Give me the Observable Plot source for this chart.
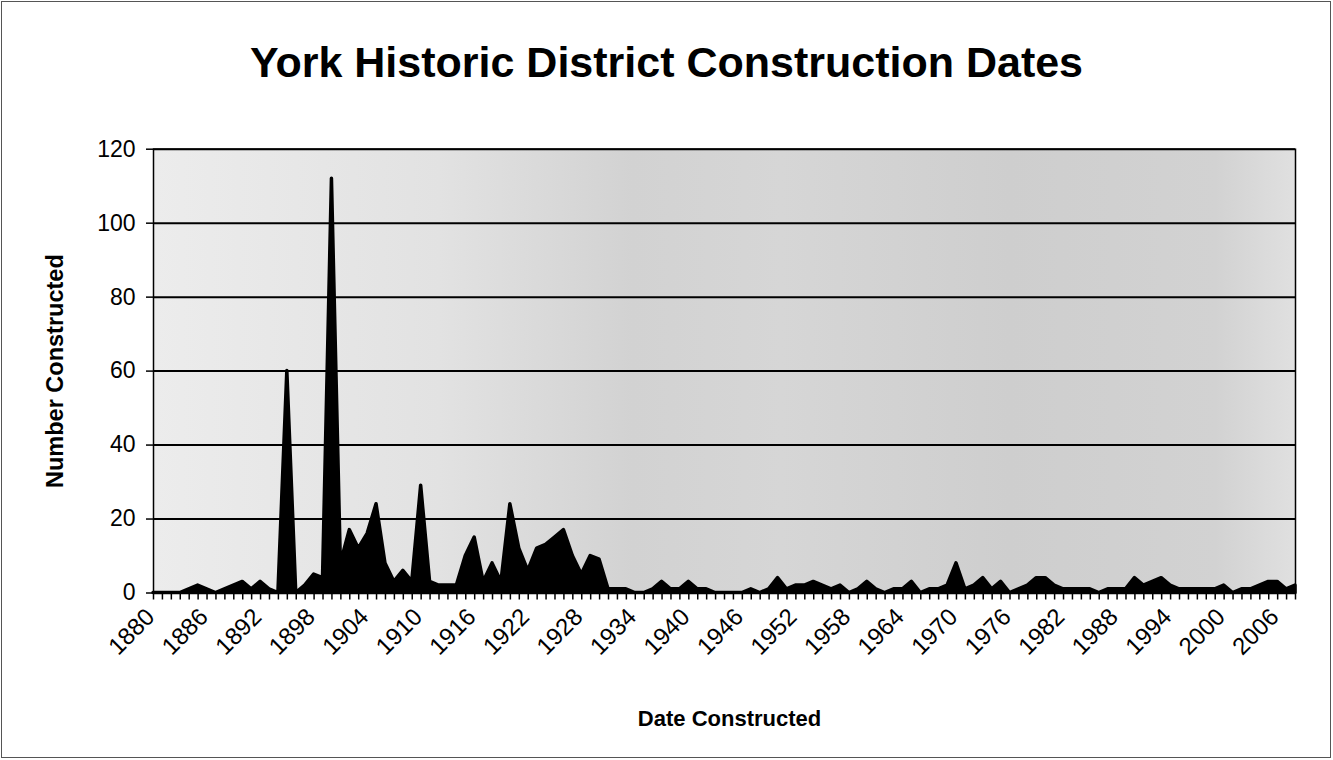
<!DOCTYPE html>
<html><head><meta charset="utf-8">
<script src="https://cdn.jsdelivr.net/npm/d3@7"></script>
<script src="https://cdn.jsdelivr.net/npm/@observablehq/plot@0.6"></script>
<style>
body{margin:0;background:#fff;font-family:"Liberation Sans",Arial,sans-serif;}
#wrap{position:relative;width:1333px;height:760px;overflow:hidden;}
#frame{position:absolute;left:1px;top:1px;width:1328px;height:755px;border:1px solid #555;}
#title{position:absolute;top:38px;left:0;width:1333px;text-align:center;font-weight:bold;font-size:43px;line-height:48px;}
#chart{position:absolute;top:100px;left:0;}
</style></head>
<body><div id="wrap"><div id="frame"></div><div id="title">York Historic District Construction Dates</div><div id="chart"></div></div>
<script>
const years = [1880,1881,1882,1883,1884,1885,1886,1887,1888,1889,1890,1891,1892,1893,1894,1895,1896,1897,1898,1899,
1900,1901,1902,1903,1904,1905,1906,1907,1908,1909,1910,1911,1912,1913,1914,1915,1916,1917,1918,1919,
1920,1921,1922,1923,1924,1925,1926,1927,1928,1929,1930,1931,1932,1933,1934,1935,1936,1937,1938,1939,
1940,1941,1942,1943,1944,1945,1946,1947,1948,1949,1950,1951,1952,1953,1954,1955,1956,1957,1958,1959,
1960,1961,1962,1963,1964,1965,1966,1967,1968,1969,1970,1971,1972,1973,1974,1975,1976,1977,1978,1979,
1980,1981,1982,1983,1984,1985,1986,1987,1988,1989,1990,1991,1992,1993,1994,1995,1996,1997,1998,1999,
2000,2001,2002,2003,2004,2005,2006,2007,2008];
const counts = [0,0,0,0,1,2,1,0,1,2,3,1,3,1,0,60,0,2,5,4,
112,8,17,12,16,24,8,3,6,3,29,3,2,2,2,10,15,3,8,3,
24,12,6,12,13,15,17,10,5,10,9,1,1,1,0,0,1,3,1,1,
3,1,1,0,0,0,0,1,0,1,4,1,2,2,3,2,1,2,0,1,
3,1,0,1,1,3,0,1,1,2,8,1,2,4,1,3,0,1,2,4,
4,2,1,1,1,1,0,1,1,1,4,2,3,4,2,1,1,1,1,1,
2,0,1,1,2,3,3,1,2];
const labelYears = [1880,1886,1892,1898,1904,1910,1916,1922,1928,1934,1940,1946,1952,1958,1964,1970,1976,1982,1988,1994,2000,2006];
const yTicks = [0,20,40,60,80,100,120];
const gridLines = [20,40,60,80,100,120];

const data = years.map((y, i) => ({year: y, count: counts[i]}));
const H = 660;
const chart = Plot.plot({
  width: 1333, height: H,
  marginLeft: 153, marginRight: 1333 - 1295, marginTop: 48.7, marginBottom: H - 492.5,
  x: {domain: [1880, 2008]},
  y: {domain: [0, 120]},
  style: {fontFamily: "Liberation Sans, Arial, sans-serif", fontSize: "23px", color: "#000", background: "transparent", overflow: "visible"},
  marks: [
    Plot.frame({fill: "url(#bgGrad)"}),
    Plot.ruleY(gridLines, {stroke: "#000", strokeWidth: 2}),
    Plot.areaY(data, {x: "year", y: "count", fill: "#000", stroke: "#000", strokeWidth: 3.5, strokeLinejoin: "round", curve: "linear"}),
    Plot.ruleY([0], {stroke: "#000", strokeWidth: 2}),
    Plot.frame({stroke: "#000", strokeWidth: 1.5}),
    Plot.axisY(yTicks, {tickSize: 7, tickPadding: 11, fontSize: 23, label: null, strokeWidth: 1.5}),
    Plot.axisX(years, {tickSize: 7, tickFormat: () => "", label: null, strokeWidth: 1.5}),
    Plot.axisX(labelYears, {tickSize: 0, tickRotate: -45, textAnchor: "end", tickPadding: 16, dx: -3, dy: 4, fontSize: 24, tickFormat: d => String(d), label: null}),
    Plot.text(["Number Constructed"], {frameAnchor: "left", textAnchor: "middle", lineAnchor: "middle", dx: -98, rotate: -90, fontWeight: "bold", fontSize: 23.5}),
    Plot.text(["Date Constructed"], {frameAnchor: "bottom", textAnchor: "middle", lineAnchor: "middle", dx: 5, dy: 126, fontWeight: "bold", fontSize: 22})
  ]
});
const svg = d3.select(chart);
const defs = svg.insert("defs", ":first-child");
const grad = defs.append("linearGradient").attr("id", "bgGrad").attr("x1", "0").attr("x2", "1").attr("y1", "0").attr("y2", "0");
[[0, "#ececec"], [0.25, "#e2e2e2"], [0.42, "#d2d2d2"], [0.55, "#d6d6d6"], [0.75, "#cecece"], [0.93, "#d2d2d2"], [1, "#e0e0e0"]]
  .forEach(([o, c]) => grad.append("stop").attr("offset", o).attr("stop-color", c));
document.getElementById("chart").appendChild(chart);
</script>
</body></html>
